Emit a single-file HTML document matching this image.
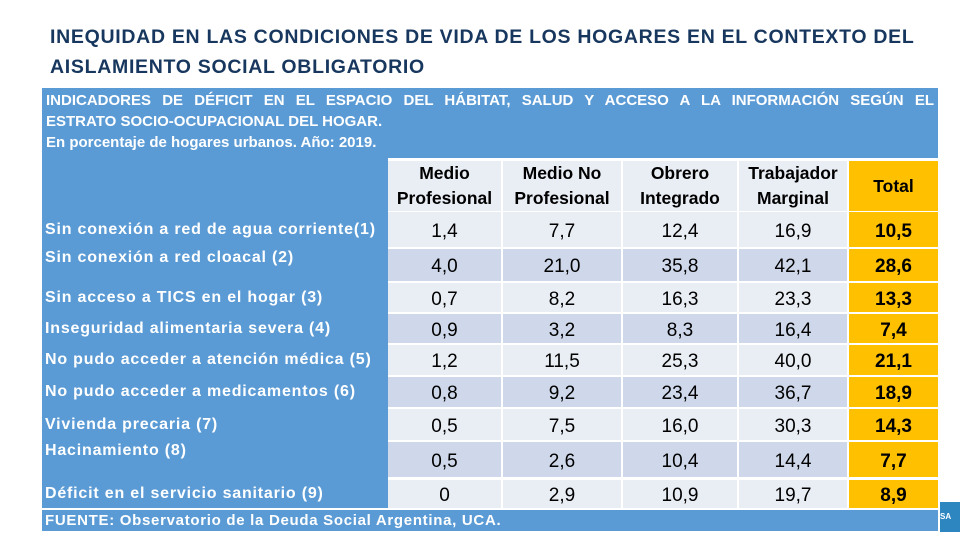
<!DOCTYPE html>
<html><head><meta charset="utf-8">
<style>
body{margin:0;width:960px;height:540px;background:#fff;position:relative;overflow:hidden;font-family:"Liberation Sans",Arial,sans-serif;}
.abs{position:absolute;box-sizing:border-box;}
.title{left:50px;color:#17375e;font-size:19.5px;font-weight:bold;letter-spacing:0.7px;white-space:nowrap;}
.hdr{left:42px;top:88px;width:896px;height:70px;background:#5b9bd5;color:#fff;font-size:15px;font-weight:bold;line-height:21px;padding:2px 4px;}
.cell{display:flex;align-items:center;justify-content:center;text-align:center;}
.lbl{color:#fff;font-size:16px;font-weight:bold;letter-spacing:0.8px;padding-left:3px;white-space:nowrap;}
</style></head><body>
<div class="abs title" style="top:26px">INEQUIDAD EN LAS CONDICIONES DE VIDA DE LOS HOGARES EN EL CONTEXTO DEL</div>
<div class="abs title" style="top:56px">AISLAMIENTO SOCIAL OBLIGATORIO</div>
<div class="abs hdr">
<div style="text-align:justify;text-align-last:justify;">INDICADORES DE DÉFICIT EN EL ESPACIO DEL HÁBITAT, SALUD Y ACCESO A LA INFORMACIÓN SEGÚN EL</div>
<div>ESTRATO SOCIO-OCUPACIONAL DEL HOGAR.</div>
<div>En porcentaje de hogares urbanos. Año: 2019.</div>
</div>
<div id="tbl"></div>
<div class="abs" style="left:42px;top:510px;width:896px;height:21px;background:#5b9bd5;color:#fff;font-size:15px;font-weight:bold;letter-spacing:0.7px;line-height:21px;padding-left:3px;white-space:nowrap;">FUENTE: Observatorio de la Deuda Social Argentina, UCA.</div>
<div class="abs" style="left:940px;top:502px;width:20px;height:30px;background:#2e86c1;color:#fff;font-size:8px;font-weight:bold;line-height:30px;">SA</div>
<script>
const columns=["Medio<br>Profesional","Medio No<br>Profesional","Obrero<br>Integrado","Trabajador<br>Marginal","Total"];
const rowLabels=["Sin conexión a red de agua corriente(1)","Sin conexión a red cloacal (2)","Sin acceso a TICS en el hogar (3)","Inseguridad alimentaria severa (4)","No pudo acceder a atención médica (5)","No pudo acceder a medicamentos (6)","Vivienda precaria (7)","Hacinamiento (8)","Déficit en el servicio sanitario (9)"];
const medioProf=["1,4","4,0","0,7","0,9","1,2","0,8","0,5","0,5","0"];
const medioNoProf=["7,7","21,0","8,2","3,2","11,5","9,2","7,5","2,6","2,9"];
const obrero=["12,4","35,8","16,3","8,3","25,3","23,4","16,0","10,4","10,9"];
const marginal=["16,9","42,1","23,3","16,4","40,0","36,7","30,3","14,4","19,7"];
const total=["10,5","28,6","13,3","7,4","21,1","18,9","14,3","7,7","8,9"];
const series=[medioProf,medioNoProf,obrero,marginal,total];
const colX=[[388,501],[503,621],[623,737],[739,847],[849,938]];
const rowY=[[212,247],[249,281],[283,312],[314,343],[345,375],[377,407],[409,440],[442,477],[480,508]];
const tbl=document.getElementById('tbl');
function mk(l,t,w,h,bg){const d=document.createElement('div');d.className='abs cell';d.style.cssText=`left:${l}px;top:${t}px;width:${w}px;height:${h}px;background:${bg};`;tbl.appendChild(d);return d;}
const lb=mk(42,158,346,350,'#5b9bd5');


columns.forEach((c,i)=>{
  const [a,b]=colX[i];
  const d=mk(a,161,b-a,50,i==4?'#ffc000':'#e9edf4');
  d.innerHTML=c;d.style.fontSize='17.5px';d.style.lineHeight='25px';d.style.fontWeight='bold';
  
  
});
rowLabels.forEach((r,j)=>{
  const [t,b]=rowY[j];
  const l=mk(42,t,346,b-t,'transparent');
  l.classList.add('lbl');l.style.justifyContent='flex-start';l.textContent=r;
  if(j==1||j==7)l.style.alignItems='flex-start';
  
  
  series.forEach((s,i)=>{
    const [a,e]=colX[i];
    const bg=i==4?'#ffc000':(j%2==0?'#e9edf4':'#cfd8ea');
    const d=mk(a,t,e-a,b-t,bg);
    d.textContent=s[j];d.style.fontSize='19px';d.style.paddingTop='4px';
    if(i==4)d.style.fontWeight='bold';
    
    
  });
});
</script>
</body></html>
